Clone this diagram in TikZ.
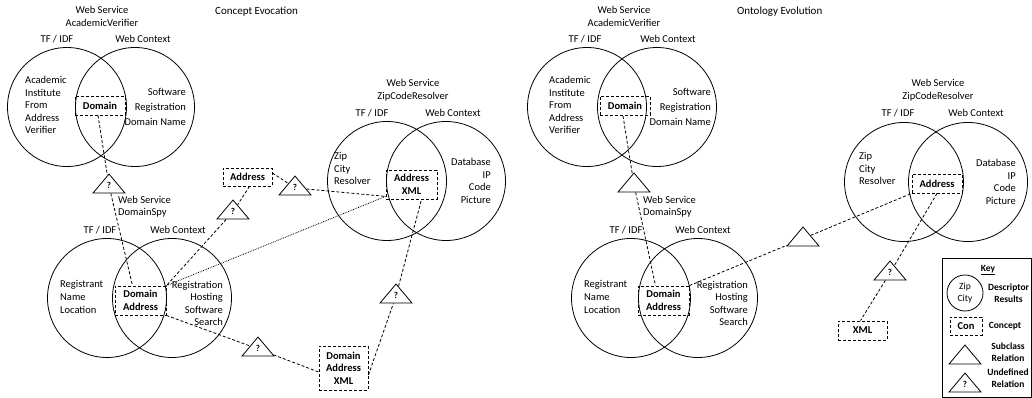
\documentclass[tikz,border=0pt]{standalone}
\usepackage{fontspec}
\setmainfont{Carlito}
\usepackage{tikz}
\usetikzlibrary{arrows.meta, positioning, shapes.geometric}

\begin{document}
\begin{tikzpicture}[x=1pt, y=-1pt,
  every node/.style={inner sep=0pt, font=\fontsize{10.5}{12.6}\selectfont},
  venn/.style={draw, circle, line width=0.8pt, minimum size=119pt},
  concept/.style={draw, dash pattern=on 3pt off 2pt, line width=0.8pt, align=center, font=\fontsize{10.5}{12.6}\selectfont\bfseries},
  relbox/.style={draw, isosceles triangle, shape border rotate=90, isosceles triangle stretches, minimum width=32pt, minimum height=19pt, line width=0.8pt, font=\fontsize{9}{10}\selectfont\bfseries},
  link/.style={dash pattern=on 3pt off 2pt, line width=0.8pt},
  hint/.style={densely dotted, line width=0.8pt},
  keytext/.style={align=center, font=\fontsize{9.5}{12}\selectfont\bfseries}
]
  \useasboundingbox (0,0) rectangle (1032,398);

  % titles
  \node[anchor=west, font=\fontsize{11}{13}\selectfont] (ce-title) at (215,12) {Concept Evocation};
  \node[anchor=west, font=\fontsize{11}{13}\selectfont] (oe-title) at (737,12) {Ontology Evolution};

  % ---- concept evocation: AcademicVerifier
  \node[align=center] (ce-av-ws) at (102,16.5) {Web Service\\AcademicVerifier};
  \node (ce-av-tf) at (57,39) {TF / IDF};
  \node (ce-av-wc) at (143,39) {Web Context};
  \node[venn] (ce-av-l) at (67,107) {};
  \node[venn] (ce-av-r) at (135,107) {};
  \node[align=left, anchor=west] (ce-av-lt) at (25,105) {Academic\\Institute\\From\\Address\\Verifier};
  \node[align=right, anchor=east] (ce-av-rt) at (186,107) {Software\\[2pt]Registration\\[2pt]Domain Name};
  \node[concept, minimum width=50pt, minimum height=19pt] (ce-av-dom) at (100,105.5) {Domain};

  % ---- concept evocation: DomainSpy
  \node[align=left, anchor=west] (ce-ds-ws) at (118,206.5) {Web Service\\DomainSpy};
  \node (ce-ds-tf) at (100,230) {TF / IDF};
  \node (ce-ds-wc) at (178,230) {Web Context};
  \node[venn] (ce-ds-l) at (107,298) {};
  \node[venn] (ce-ds-r) at (172,298) {};
  \node[align=left, anchor=west] (ce-ds-lt) at (60,297) {Registrant\\Name\\Location};
  \node[align=right, anchor=east] (ce-ds-rt) at (223,303.5) {Registration\\Hosting\\Software\\Search};
  \node[concept, minimum width=51pt, minimum height=29pt] (ce-ds-da) at (140.5,300.5) {Domain\\Address};

  % ---- concept evocation: ZipCodeResolver
  \node[align=center] (ce-zc-ws) at (413,90.5) {Web Service\\ZipCodeResolver};
  \node (ce-zc-tf) at (372,113) {TF / IDF};
  \node (ce-zc-wc) at (453,113) {Web Context};
  \node[venn] (ce-zc-l) at (387,181) {};
  \node[venn] (ce-zc-r) at (446,181) {};
  \node[align=left, anchor=west] (ce-zc-lt) at (334,168.5) {Zip\\City\\Resolver};
  \node[align=right, anchor=east] (ce-zc-rt) at (491,181) {Database\\IP\\Code\\Picture};
  \node[concept, minimum width=51pt, minimum height=29pt] (ce-zc-ax) at (411.5,184.5) {Address\\XML};

  % ---- concept evocation: loose concepts and relations
  \node[concept, minimum width=49pt, minimum height=18pt] (ce-addr) at (247.5,177) {Address};
  \node[concept, minimum width=49pt, minimum height=44pt] (ce-dax) at (343.5,368) {Domain\\Address\\XML};
  \node[relbox, anchor=apex] (ce-q1) at (109,173) {?};
  \node[relbox, anchor=apex] (ce-q2) at (233,199) {?};
  \node[relbox, anchor=apex] (ce-q3) at (295,175) {?};
  \node[relbox, anchor=apex] (ce-q4) at (258,336) {?};
  \node[relbox, anchor=apex] (ce-q5) at (396,283) {?};

  \draw[link] ([xshift=-2pt]ce-av-dom.south) -- (ce-q1);
  \draw[link] (ce-q1) -- ([xshift=-8pt]ce-ds-da.north);
  \draw[link] ([xshift=2pt]ce-addr.south) -- (ce-q2);
  \draw[link] (ce-q2) -- (ce-ds-da.north east);
  \draw[link] ([yshift=4pt]ce-addr.east) -- (ce-q3);
  \draw[link] (ce-q3) -- ([yshift=3pt]ce-zc-ax.south west);
  \draw[hint] (ce-ds-da.north east) -- ([yshift=3pt]ce-zc-ax.south west);
  \draw[link] (ce-ds-da.south east) -- (ce-q4);
  \draw[link] (ce-q4) -- ([yshift=-4pt]ce-dax.west);
  \draw[link] ([yshift=-7pt]ce-dax.east) -- (ce-q5);
  \draw[link] (ce-q5) -- ([xshift=10pt]ce-zc-ax.south);

  % ---- ontology evolution: AcademicVerifier
  \node[align=center] (oe-av-ws) at (624,16.5) {Web Service\\AcademicVerifier};
  \node (oe-av-tf) at (585,39) {TF / IDF};
  \node (oe-av-wc) at (668,39) {Web Context};
  \node[venn] (oe-av-l) at (587,107) {};
  \node[venn] (oe-av-r) at (657,107) {};
  \node[align=left, anchor=west] (oe-av-lt) at (549,105) {Academic\\Institute\\From\\Address\\Verifier};
  \node[align=right, anchor=east] (oe-av-rt) at (711,107) {Software\\[2pt]Registration\\[2pt]Domain Name};
  \node[concept, minimum width=50pt, minimum height=19pt] (oe-av-dom) at (625,106) {Domain};

  % ---- ontology evolution: DomainSpy
  \node[align=left, anchor=west] (oe-ds-ws) at (643,206.5) {Web Service\\DomainSpy};
  \node (oe-ds-tf) at (626,230) {TF / IDF};
  \node (oe-ds-wc) at (703,230) {Web Context};
  \node[venn] (oe-ds-l) at (631,298) {};
  \node[venn] (oe-ds-r) at (698,298) {};
  \node[align=left, anchor=west] (oe-ds-lt) at (584,297) {Registrant\\Name\\Location};
  \node[align=right, anchor=east] (oe-ds-rt) at (748,303.5) {Registration\\Hosting\\Software\\Search};
  \node[concept, minimum width=51pt, minimum height=29pt] (oe-ds-da) at (663.5,300.5) {Domain\\Address};

  % ---- ontology evolution: ZipCodeResolver
  \node[align=center] (oe-zc-ws) at (938,90.5) {Web Service\\ZipCodeResolver};
  \node (oe-zc-tf) at (898,113) {TF / IDF};
  \node (oe-zc-wc) at (976,113) {Web Context};
  \node[venn] (oe-zc-l) at (904,182) {};
  \node[venn] (oe-zc-r) at (968,182) {};
  \node[align=left, anchor=west] (oe-zc-lt) at (859,168.5) {Zip\\City\\Resolver};
  \node[align=right, anchor=east] (oe-zc-rt) at (1016,182) {Database\\IP\\Code\\Picture};
  \node[concept, minimum width=50pt, minimum height=19pt] (oe-zc-ad) at (937,183.5) {Address};

  % ---- ontology evolution: relations
  \node[concept, minimum width=49pt, minimum height=19pt] (oe-xml) at (862.5,330.5) {XML};
  \node[relbox, anchor=apex] (oe-s1) at (634,172) {};
  \node[relbox, anchor=apex] (oe-s2) at (803,226) {};
  \node[relbox, anchor=apex] (oe-q6) at (890,260) {?};

  \draw[link] ([xshift=-2pt]oe-av-dom.south) -- (oe-s1);
  \draw[link] (oe-s1) -- ([xshift=-8pt]oe-ds-da.north);
  \draw[link] (oe-ds-da.north east) -- (oe-s2);
  \draw[link] (oe-s2) -- (oe-zc-ad.south west);
  \draw[link] (oe-zc-ad.south) -- (oe-q6);
  \draw[link] (oe-q6) -- ([xshift=-2pt]oe-xml.north);

  % ---- key
  \node[draw, line width=0.8pt, anchor=north west, minimum width=89pt, minimum height=139pt] (key) at (942,258) {};
  \node[keytext] (key-ttl) at (988,270) {\underline{Key}};
  \node[draw, circle, line width=0.8pt, minimum size=36pt, align=center, font=\fontsize{9.5}{12}\selectfont] (key-venn) at (965,293) {Zip\\City};
  \node[keytext] (key-venn-t) at (1008.5,293) {Descriptor\\Results};
  \node[concept, minimum width=32pt, minimum height=18pt] (key-con) at (966,326) {Con};
  \node[keytext] (key-con-t) at (1005,326) {Concept};
  \node[relbox, anchor=apex] (key-sub) at (965,344) {};
  \node[keytext] (key-sub-t) at (1008,352.5) {Subclass\\Relation};
  \node[relbox, anchor=apex] (key-und) at (965,372) {?};
  \node[keytext] (key-und-t) at (1008,378) {Undefined\\Relation};
\end{tikzpicture}
\end{document}
